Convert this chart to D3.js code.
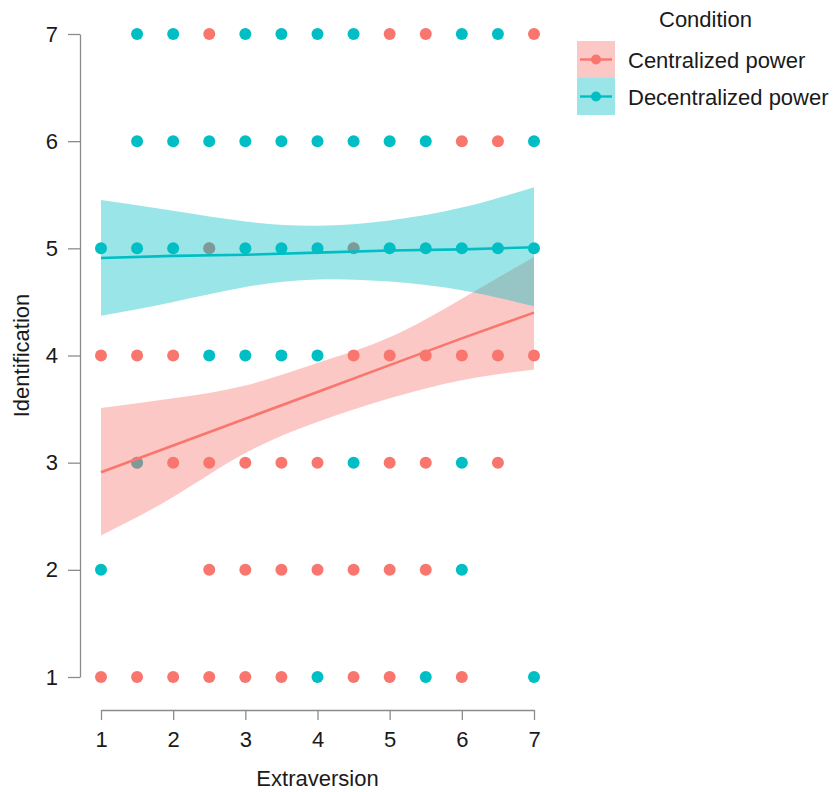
<!DOCTYPE html>
<html>
<head>
<meta charset="utf-8">
<script src="https://cdn.jsdelivr.net/npm/d3@7"></script>
<style>
  body { margin: 0; background: #fff; }
  svg text { font-family: "Liberation Sans", Arial, sans-serif; fill: #1a1a1a; }
  .axis path, .axis line { stroke: #8c8c8c; stroke-width: 1.3; }
</style>
</head>
<body>
<div id="chart"></div>
<script>
const groups = ["Centralized power", "Decentralized power"];
const colors = ["#F8766D", "#00BFC4"];

// observed cells [extraversion, identification]
const centralizedPoints = [
  [2.5, 7], [5, 7], [5.5, 7], [7, 7],
  [6, 6], [6.5, 6],
  [2.5, 5], [4.5, 5],
  [1, 4], [1.5, 4], [2, 4], [4.5, 4], [5, 4], [5.5, 4], [6, 4], [6.5, 4], [7, 4],
  [1.5, 3], [2, 3], [2.5, 3], [3, 3], [3.5, 3], [4, 3], [5, 3], [5.5, 3], [6.5, 3],
  [2.5, 2], [3, 2], [3.5, 2], [4, 2], [4.5, 2], [5, 2], [5.5, 2],
  [1, 1], [1.5, 1], [2, 1], [2.5, 1], [3, 1], [3.5, 1], [4.5, 1], [5, 1], [6, 1]
];
const decentralizedPoints = [
  [1.5, 7], [2, 7], [3, 7], [3.5, 7], [4, 7], [4.5, 7], [6, 7], [6.5, 7],
  [1.5, 6], [2, 6], [2.5, 6], [3, 6], [3.5, 6], [4, 6], [4.5, 6], [5, 6], [5.5, 6], [7, 6],
  [1, 5], [1.5, 5], [2, 5], [2.5, 5], [3, 5], [3.5, 5], [4, 5], [4.5, 5], [5, 5], [5.5, 5], [6, 5], [6.5, 5], [7, 5],
  [2.5, 4], [3, 4], [3.5, 4], [4, 4],
  [1.5, 3], [4.5, 3], [6, 3],
  [1, 2], [6, 2],
  [4, 1], [5.5, 1], [7, 1]
];

// fitted lines and 95% bands, read at extraversion 1..7
const fitX = [1, 2, 3, 4, 5, 6, 7];
const centralizedFit   = [2.91, 3.16, 3.41, 3.66, 3.91, 4.16, 4.40];
const centralizedLower = [2.32, 2.68, 3.09, 3.38, 3.60, 3.77, 3.87];
const centralizedUpper = [3.51, 3.60, 3.72, 3.93, 4.17, 4.53, 4.92];
const decentralizedFit   = [4.91, 4.93, 4.94, 4.96, 4.98, 4.99, 5.01];
const decentralizedLower = [4.37, 4.50, 4.64, 4.71, 4.69, 4.61, 4.46];
const decentralizedUpper = [5.45, 5.35, 5.25, 5.21, 5.26, 5.38, 5.57];

const xTicks = [1, 2, 3, 4, 5, 6, 7];
const yTicks = [1, 2, 3, 4, 5, 6, 7];

const width = 834, height = 792;

const svg = d3.select("#chart").append("svg")
  .attr("width", width)
  .attr("height", height);

const x = d3.scaleLinear().domain([1, 7]).range([101, 534]);
const y = d3.scaleLinear().domain([1, 7]).range([677, 34]);

const series = [
  { name: groups[0], color: colors[0], points: centralizedPoints, fit: centralizedFit, lo: centralizedLower, hi: centralizedUpper },
  { name: groups[1], color: colors[1], points: decentralizedPoints, fit: decentralizedFit, lo: decentralizedLower, hi: decentralizedUpper }
];

// bands
const area = d3.area()
  .x((d, i) => x(fitX[i]))
  .y0(d => y(d[0]))
  .y1(d => y(d[1]))
  .curve(d3.curveNatural);

svg.append("g").selectAll("path")
  .data(series)
  .join("path")
    .attr("d", s => area(s.lo.map((v, i) => [v, s.hi[i]])))
    .attr("fill", s => s.color)
    .attr("fill-opacity", 0.4);

// points (second colour in a shared cell drawn half transparent)
const seen = new Set();
const dots = [];
series.forEach(s => s.points.forEach(p => {
  const key = p.join(",");
  dots.push({ x: p[0], y: p[1], color: s.color, op: seen.has(key) ? 0.5 : 1 });
  seen.add(key);
}));

svg.append("g").selectAll("circle")
  .data(dots)
  .join("circle")
    .attr("cx", d => x(d.x))
    .attr("cy", d => y(d.y))
    .attr("r", 6)
    .attr("fill", d => d.color)
    .attr("fill-opacity", d => d.op);

// fit lines
const line = d3.line()
  .x((d, i) => x(fitX[i]))
  .y(d => y(d));

svg.append("g").selectAll("path")
  .data(series)
  .join("path")
    .attr("d", s => line(s.fit))
    .attr("fill", "none")
    .attr("stroke", s => s.color)
    .attr("stroke-width", 2.6);

// axes
svg.append("g")
  .attr("class", "axis")
  .attr("transform", "translate(80,0)")
  .call(d3.axisLeft(y).tickValues(yTicks).tickFormat(d3.format("d"))
    .tickSize(12).tickPadding(10).tickSizeOuter(0));

svg.append("g")
  .attr("class", "axis")
  .attr("transform", "translate(0,710)")
  .call(d3.axisBottom(x).tickValues(xTicks).tickFormat(d3.format("d"))
    .tickSize(10).tickPadding(11).tickSizeOuter(0));

svg.selectAll(".axis text")
  .attr("font-size", 22)
  .attr("fill", "#1a1a1a");

svg.append("text")
  .attr("x", (x(1) + x(7)) / 2)
  .attr("y", 786)
  .attr("text-anchor", "middle")
  .attr("font-size", 22)
  .text("Extraversion");

svg.append("text")
  .attr("transform", `translate(29,${(y(1) + y(7)) / 2}) rotate(-90)`)
  .attr("text-anchor", "middle")
  .attr("font-size", 22)
  .text("Identification");

// legend
const legend = svg.append("g").attr("transform", "translate(577,0)");

legend.append("text")
  .attr("x", 82)
  .attr("y", 27)
  .attr("font-size", 22)
  .text("Condition");

const item = legend.selectAll(".item")
  .data(series)
  .join("g")
    .attr("class", "item")
    .attr("transform", (d, i) => `translate(0,${41 + i * 37})`);

item.append("rect")
  .attr("width", 38)
  .attr("height", 37)
  .attr("fill", d => d.color)
  .attr("fill-opacity", 0.4);

item.append("line")
  .attr("x1", 3).attr("x2", 35)
  .attr("y1", 18.5).attr("y2", 18.5)
  .attr("stroke", d => d.color)
  .attr("stroke-width", 2.4);

item.append("circle")
  .attr("cx", 19).attr("cy", 18.5)
  .attr("r", 5)
  .attr("fill", d => d.color);

item.append("text")
  .attr("x", 51)
  .attr("y", 26.5)
  .attr("font-size", 22)
  .text(d => d.name);
</script>
</body>
</html>
